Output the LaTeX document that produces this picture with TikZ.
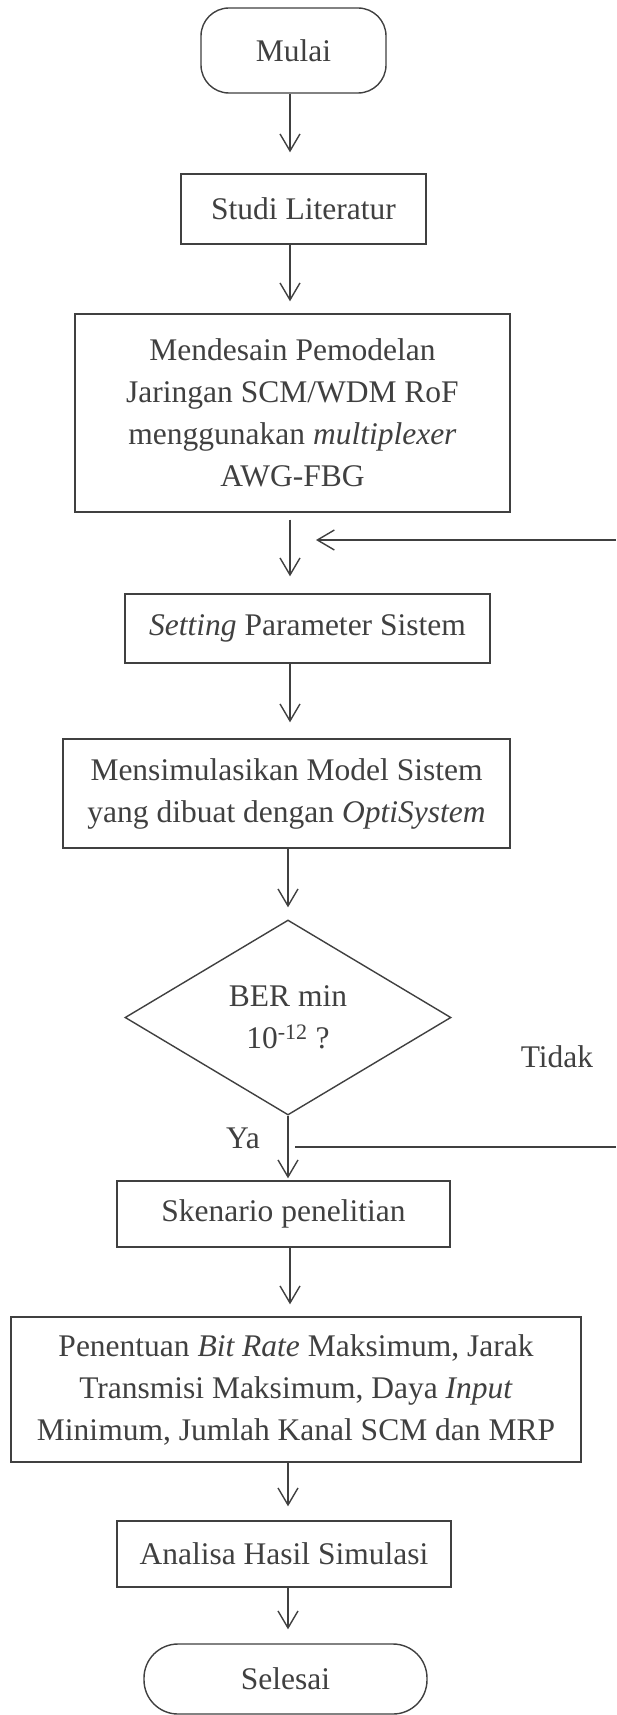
\documentclass[tikz,border=0pt]{standalone}
\usepackage{fontspec}
\setmainfont{Liberation Serif}
\usetikzlibrary{arrows.meta,shapes.geometric}

\definecolor{ink}{gray}{0.25}

\tikzset{
  box/.style={draw=ink, line width=1.4pt, rectangle, align=center, inner sep=0pt},
  term/.style={box, rounded corners=#1},
  decision/.style={draw=ink, line width=1.4pt, diamond, align=center, inner sep=0pt},
  arr/.style={draw=ink, line width=1.4pt, -{Straight Barb[length=17pt,width=20pt]}},
  plain/.style={draw=ink, line width=1.4pt},
  lbl/.style={inner sep=0pt, text=ink}
}

\begin{document}
\begin{tikzpicture}[x=1pt, y=-1pt, text=ink,
  font=\fontsize{31.5}{42}\selectfont]
  % canvas
  \fill[white] (0,0) rectangle (616,1715);
  \useasboundingbox (0,0) rectangle (616,1715);

  % vertical axis carrying the main arrows
  \coordinate (spine) at (290,0);

  % process steps
  \node[term=28pt, minimum width=185pt, minimum height=85pt] (mulai) at (293.5,50.5) {Mulai};
  \node[box, minimum width=245pt, minimum height=70pt] (studi) at (303.5,209) {Studi Literatur};
  \node[box, minimum width=435pt, minimum height=198pt] (desain) at (292.5,413)
    {Mendesain Pemodelan\\Jaringan SCM/WDM RoF\\menggunakan \textit{multiplexer}\\AWG-FBG};
  \node[box, minimum width=365pt, minimum height=69pt] (setting) at (307.5,628.5)
    {\textit{Setting} Parameter Sistem};
  \node[box, minimum width=447pt, minimum height=109pt] (simul) at (286.5,793.5)
    {Mensimulasikan Model Sistem\\yang dibuat dengan \textit{OptiSystem}};
  \node[decision, minimum width=326pt, minimum height=195pt] (ber) at (288,1017.5)
    {BER min\\10\textsuperscript{-12} ?};
  \node[box, minimum width=333pt, minimum height=66pt] (skenario) at (283.5,1214)
    {Skenario penelitian};
  \node[box, minimum width=570pt, minimum height=145pt] (tentu) at (296,1389.5)
    {Penentuan \textit{Bit Rate} Maksimum, Jarak\\Transmisi Maksimum, Daya \textit{Input}\\Minimum, Jumlah Kanal SCM dan MRP};
  \node[box, minimum width=334pt, minimum height=66pt] (analisa) at (284,1554)
    {Analisa Hasil Simulasi};
  \node[term=34pt, minimum width=283pt, minimum height=70pt] (selesai) at (285.5,1679)
    {Selesai};

  % branch labels
  \node[lbl] (tidak) at (557,1057) {Tidak};
  \node[lbl] (ya) at (243,1138) {Ya};

  % main flow
  \draw[arr, shorten >=21pt] (mulai.south -| spine) -- (studi.north -| spine);
  \draw[arr, shorten >=12pt] (studi.south -| spine) -- (desain.north -| spine);
  \draw[arr, shorten <=7pt, shorten >=17pt] (desain.south -| spine) -- (setting.north -| spine);
  \draw[arr, shorten >=16pt] (setting.south -| spine) -- (simul.north -| spine);
  \draw[arr, shorten >=12pt] (simul.south -| ber.north) -- (ber.north);
  \draw[arr, shorten >=2pt] (ber.south) -- (skenario.north -| ber.south);
  \draw[arr, shorten >=12pt] (skenario.south -| spine) -- (tentu.north -| spine);
  \draw[arr, shorten >=14pt] (tentu.south -| ber.south) -- (analisa.north -| ber.south);
  \draw[arr, shorten >=14pt] (analisa.south -| ber.south) -- (selesai.north -| ber.south);

  % loop back when the BER target is not met
  \coordinate (noL) at (295,1147);
  \coordinate (noR) at (616,1147);
  \coordinate (backR) at (616,540);
  \coordinate (backTip) at (316,540);
  \draw[plain] (noL) -- (noR);
  \draw[arr] (backR) -- (backTip);
\end{tikzpicture}
\end{document}
